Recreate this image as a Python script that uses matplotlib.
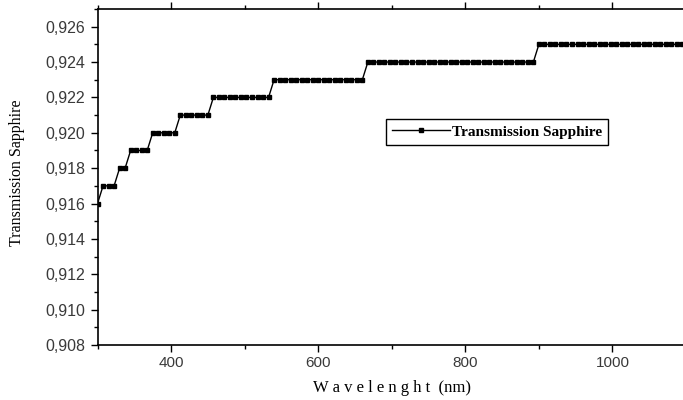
import matplotlib
matplotlib.use("Agg")
import matplotlib.pyplot as plt
import numpy as np
from matplotlib.ticker import MultipleLocator, FuncFormatter

# spectrometer sampling grid (nm)
wavelength = np.arange(300, 1101, 7.5)

# plateau starts (nm) and transmission levels
step_start = [300, 305, 326, 344, 375, 406, 456, 535, 665, 894]
step_level = [0.916, 0.917, 0.918, 0.919, 0.920, 0.921, 0.922, 0.923, 0.924, 0.925]

idx = np.searchsorted(step_start, wavelength, side="right") - 1
transmission = np.array(step_level)[idx]

fig = plt.figure(figsize=(6.83, 4.0), dpi=100)
ax = fig.add_axes([0.1428, 0.1375, 0.8616, 0.84])

ax.plot(wavelength, transmission, "-", color="black", lw=1.0,
        marker="s", ms=2.6, mfc="black", mec="black",
        label="Transmission Sapphire")

ax.set_xlim(300, 1100)
ax.set_ylim(0.908, 0.927)
ax.xaxis.set_major_locator(MultipleLocator(200))
ax.xaxis.set_minor_locator(MultipleLocator(100))
ax.yaxis.set_major_locator(MultipleLocator(0.002))
ax.yaxis.set_minor_locator(MultipleLocator(0.001))
ax.yaxis.set_major_formatter(FuncFormatter(lambda v, p: f"{v:.3f}".replace(".", ",")))
ax.xaxis.set_major_formatter(FuncFormatter(lambda v, p: f"{v:.0f}"))

for s in ax.spines.values():
    s.set_linewidth(1.2)
ax.spines["right"].set_visible(False)

ax.tick_params(which="both", direction="out", top=True, right=False,
               width=1.0, labelcolor="#3a3a3a")
ax.tick_params(which="major", length=5)
ax.tick_params(which="minor", length=3)
ax.tick_params(axis="y", labelsize=11.5, pad=4)
ax.tick_params(axis="x", labelsize=11, pad=3)
for lbl in ax.get_xticklabels() + ax.get_yticklabels():
    lbl.set_family("Liberation Sans")

ax.set_xlabel("W a v e l e n g h t  (nm)", family="Liberation Serif",
              fontsize=12)
ax.xaxis.set_label_coords(0.5, -0.105)
ax.set_ylabel("Transmission Sapphire", family="Liberation Serif",
              fontsize=11.5)
ax.yaxis.set_label_coords(-0.123, 0.512)

leg = ax.legend(loc="center", bbox_to_anchor=(0.679, 0.634), frameon=True,
                fancybox=False, edgecolor="black", framealpha=1,
                handlelength=3.8, handletextpad=0.1, borderpad=0.4,
                prop={"family": "Liberation Serif", "weight": "bold", "size": 11})
leg.get_frame().set_linewidth(1.0)

fig.savefig("out.png", dpi=100)
